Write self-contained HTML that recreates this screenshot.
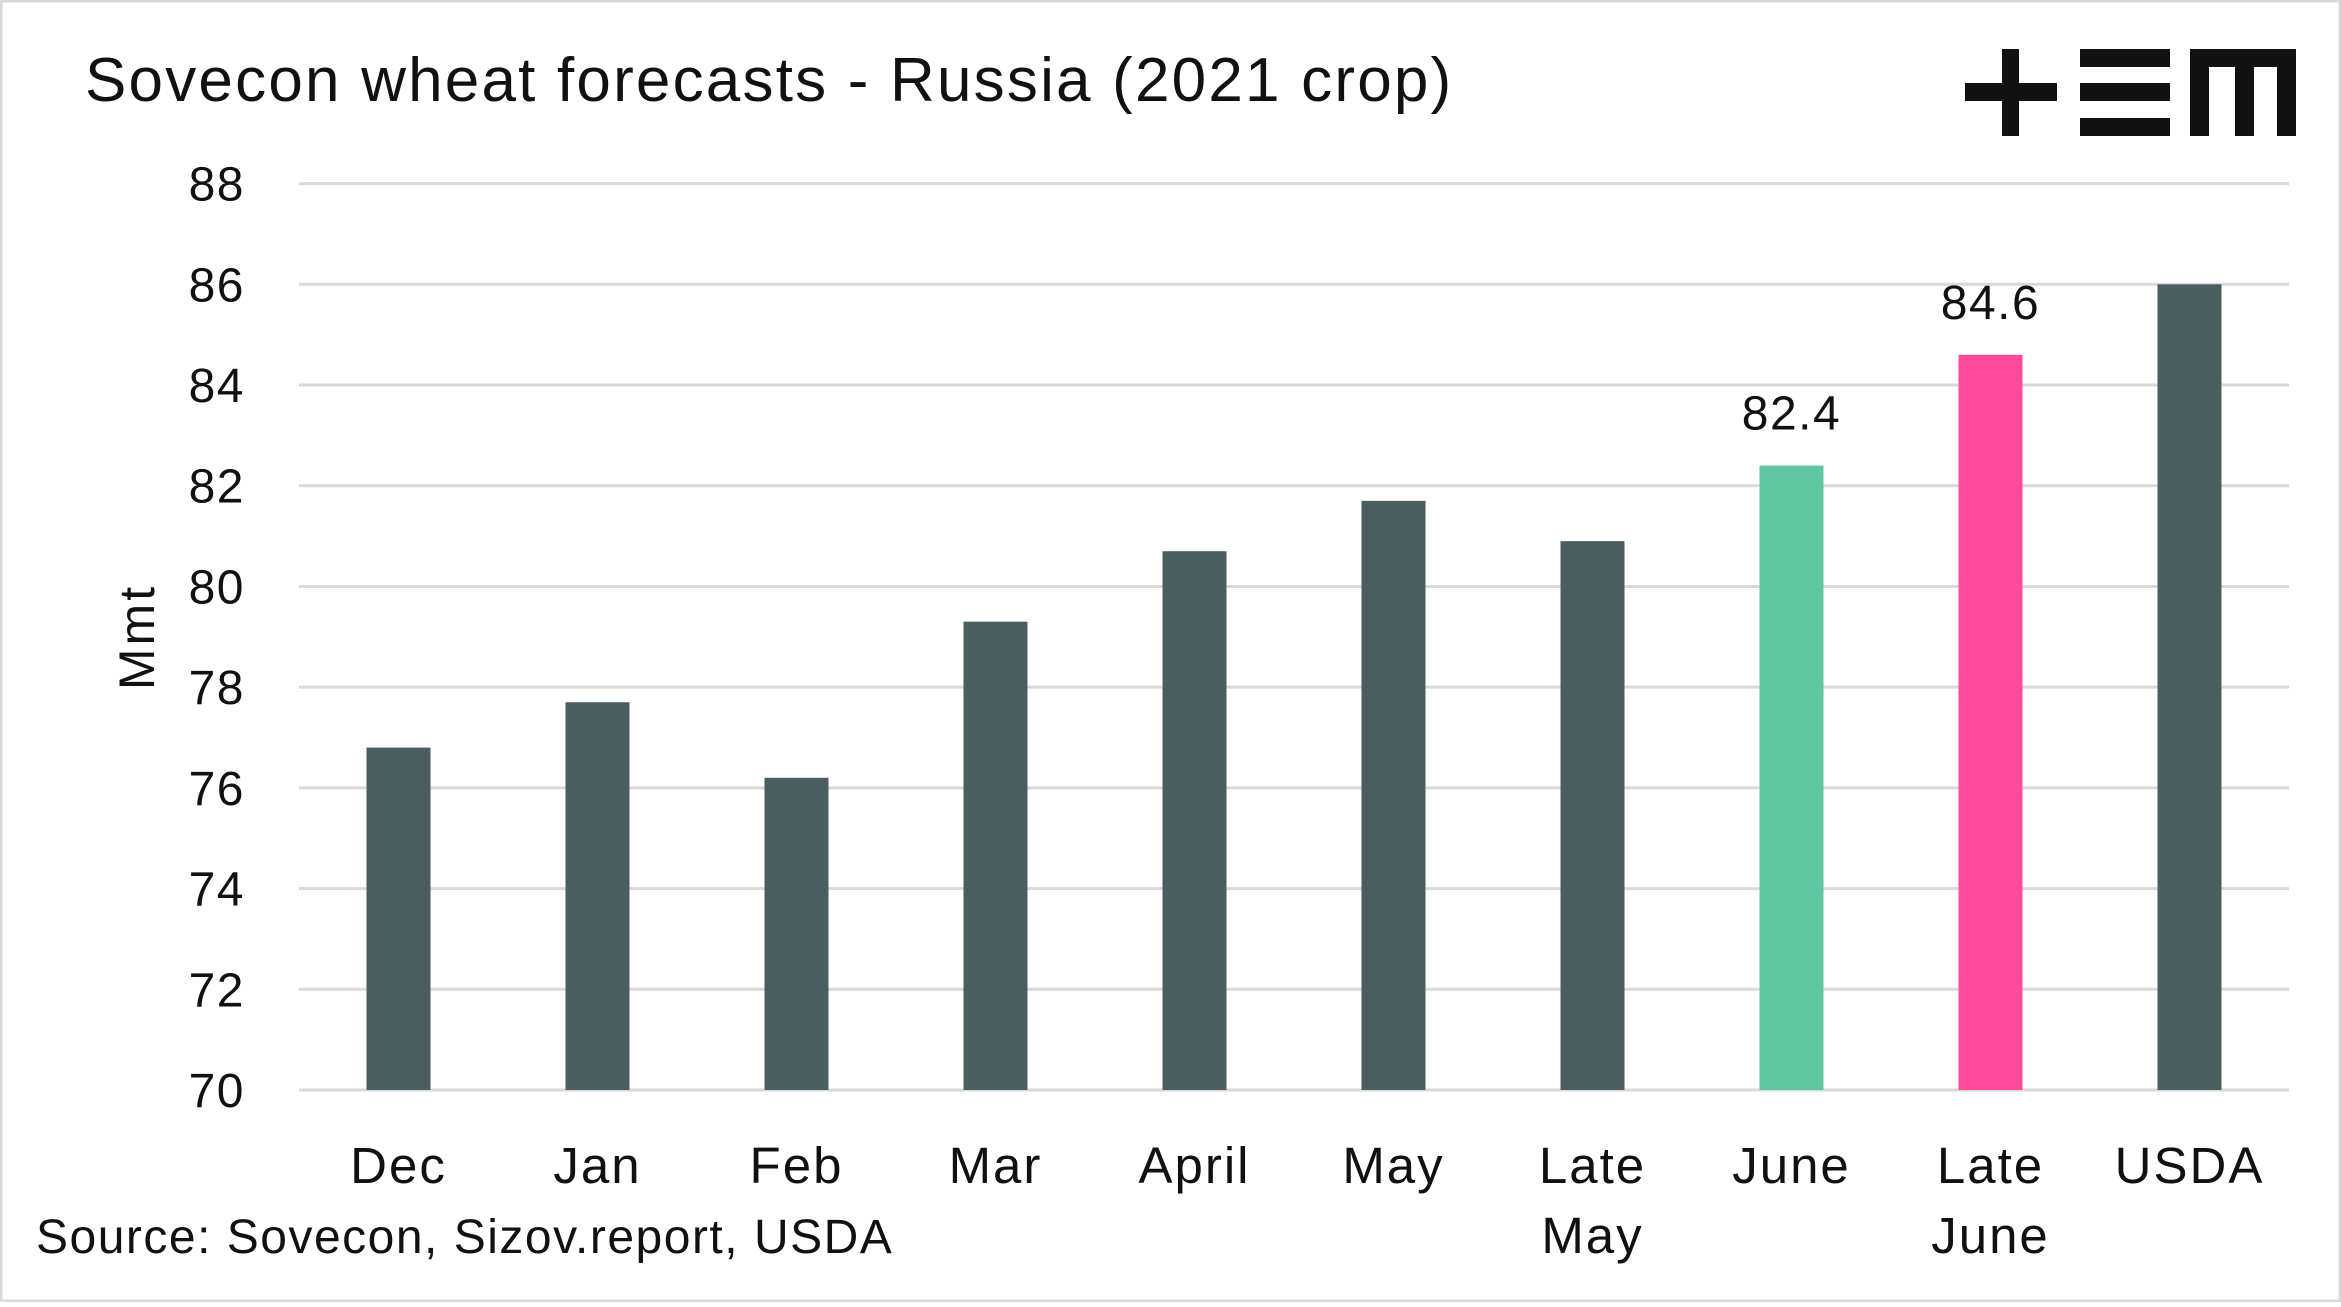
<!DOCTYPE html>
<html><head><meta charset="utf-8"><style>
html,body{margin:0;padding:0;background:#fff}
body{width:2341px;height:1302px;position:relative;overflow:hidden;font-family:"Liberation Sans",sans-serif}
</style></head><body>
<svg id="chart" width="2341" height="1302" xmlns="http://www.w3.org/2000/svg">
<rect x="1" y="1" width="2339" height="1300" fill="#fff" stroke="#d9d9d9" stroke-width="3"/>
<text x="85" y="101" font-size="62" letter-spacing="2.2" fill="#111">Sovecon wheat forecasts - Russia (2021 crop)</text>
<g fill="#111">
<rect x="1965" y="83" width="92" height="18"/><rect x="2002" y="49" width="17" height="87"/>
<rect x="2080" y="49" width="90" height="18"/><rect x="2080" y="83" width="90" height="18"/><rect x="2080" y="118" width="90" height="18"/>
<rect x="2190" y="49" width="106" height="18"/><rect x="2190" y="49" width="19" height="87"/><rect x="2235" y="49" width="19" height="87"/><rect x="2277" y="49" width="19" height="87"/>
</g>
<g id="grid"></g><g id="bars"></g><g id="labels"></g>
<text transform="translate(154,637) rotate(-90)" text-anchor="middle" font-size="50" letter-spacing="3" fill="#111">Mmt</text>
<text x="36" y="1253" font-size="48" letter-spacing="1.5" fill="#111">Source: Sovecon, Sizov.report, USDA</text>
</svg>
<script>
const categories=[["Dec"],["Jan"],["Feb"],["Mar"],["April"],["May"],["Late","May"],["June"],["Late","June"],["USDA"]];
const values=[76.8,77.7,76.2,79.3,80.7,81.7,80.9,82.4,84.6,86.0];
const colors=["#4a5e60","#4a5e60","#4a5e60","#4a5e60","#4a5e60","#4a5e60","#4a5e60","#61c5a2","#ff4b9a","#4a5e60"];
const labelled=[false,false,false,false,false,false,false,true,true,false];
const yTicks=[70,72,74,76,78,80,82,84,86,88];
const NS="http://www.w3.org/2000/svg";
const x0=299,x1=2289,yMin=70,yMax=88,py0=1090,py1=183.6;
const y=v=>py0-(v-yMin)/(yMax-yMin)*(py0-py1);
const step=(x1-x0)/categories.length;
const xc=i=>x0+step*(i+0.5);
function mk(t,a,p){const e=document.createElementNS(NS,t);for(const k in a)e.setAttribute(k,a[k]);p.appendChild(e);return e;}
const grid=document.getElementById('grid'),bars=document.getElementById('bars'),labels=document.getElementById('labels');
yTicks.forEach(t=>{
 const l=mk('line',{x1:x0,x2:x1,y1:y(t),y2:y(t),stroke:'#d9d9d9','stroke-width':3},grid);
 
 
 const tx=mk('text',{x:245,y:y(t)+17,'text-anchor':'end','font-size':48,'letter-spacing':1.5,fill:'#111'},grid);
 tx.textContent=t;
 
 
});
values.forEach((v,i)=>{
 const w=64;
 const r=mk('rect',{x:xc(i)-w/2,y:y(v),width:w,height:py0-y(v),fill:colors[i]},bars);
 
 
 categories[i].forEach((s,j)=>{
  const t=mk('text',{x:xc(i),y:1183+j*70,'text-anchor':'middle','font-size':51,'letter-spacing':2,fill:'#111'},labels);
  t.textContent=s;
  
  
 });
 if(labelled[i]){
  const t=mk('text',{x:xc(i),y:y(v)-36,'text-anchor':'middle','font-size':48,'letter-spacing':1.5,fill:'#111'},labels);
  t.textContent=v.toFixed(1);
  
  
 }
});
</script>
</body></html>
